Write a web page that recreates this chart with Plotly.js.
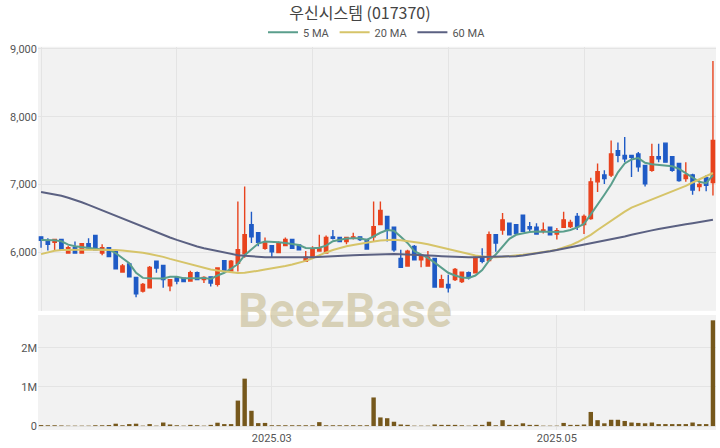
<!DOCTYPE html>
<html><head><meta charset="utf-8">
<script src="https://cdn.plot.ly/plotly-3.0.1.min.js"></script>
<style>html,body{margin:0;padding:0;background:#fff}#chart{width:720px;height:448px}</style>
</head><body><div id="chart"></div>
<script>
const dates = ['2025-01-08','2025-01-09','2025-01-10','2025-01-13','2025-01-14','2025-01-15','2025-01-16','2025-01-17','2025-01-20','2025-01-21','2025-01-22','2025-01-23','2025-01-24','2025-01-31',
'2025-02-03','2025-02-04','2025-02-05','2025-02-06','2025-02-07','2025-02-10','2025-02-11','2025-02-12','2025-02-13','2025-02-14','2025-02-17','2025-02-18','2025-02-19','2025-02-20','2025-02-21','2025-02-24','2025-02-25','2025-02-26','2025-02-27','2025-02-28',
'2025-03-04','2025-03-05','2025-03-06','2025-03-07','2025-03-10','2025-03-11','2025-03-12','2025-03-13','2025-03-14','2025-03-17','2025-03-18','2025-03-19','2025-03-20','2025-03-21','2025-03-24','2025-03-25','2025-03-26','2025-03-27','2025-03-28','2025-03-31',
'2025-04-01','2025-04-02','2025-04-03','2025-04-04','2025-04-07','2025-04-08','2025-04-09','2025-04-10','2025-04-11','2025-04-14','2025-04-15','2025-04-16','2025-04-17','2025-04-18','2025-04-21','2025-04-22','2025-04-23','2025-04-24','2025-04-25','2025-04-28','2025-04-29','2025-04-30',
'2025-05-02','2025-05-07','2025-05-08','2025-05-09','2025-05-12','2025-05-13','2025-05-14','2025-05-15','2025-05-16','2025-05-19','2025-05-20','2025-05-21','2025-05-22','2025-05-23','2025-05-26','2025-05-27','2025-05-28','2025-05-29','2025-05-30',
'2025-06-02','2025-06-04','2025-06-05','2025-06-09','2025-06-10'];

const openP = [6230,6170,6150,6190,5990,6070,5990,6130,6250,5990,6070,6020,5710,5830,5630,5430,5480,5870,5810,5510,5630,5620,5580,5700,5600,5640,5530,5880,5730,5840,5980,6410,6290,6060,6100,6000,6100,6190,6110,5870,5940,6020,5990,6230,6220,6160,6210,6230,6190,6230,6410,6530,6370,5910,5800,6090,5890,5800,5910,5490,5530,5600,5570,5700,5700,5940,5880,6260,6330,6430,6410,6550,6380,6370,6320,6370,6270,6370,6380,6530,6410,6500,7040,7140,7140,7500,7430,7430,7450,7280,7210,7410,7610,7410,7310,7090,7140,6970,7100,7030];
const highP = [6240,6210,6190,6190,6100,6160,6140,6210,6260,6120,6080,6020,5830,5840,5640,5550,5800,5870,5810,5610,5630,5620,5730,5720,5650,5640,5780,5880,5890,6750,6970,6600,6300,6220,6110,6160,6220,6190,6120,6020,6090,6260,6250,6330,6230,6230,6290,6240,6190,6750,6750,6530,6370,6040,6040,6110,5970,6020,5910,5670,5670,5770,5720,5720,5960,6060,6310,6260,6580,6440,6410,6560,6450,6430,6440,6380,6360,6600,6480,6580,6560,7100,7310,7210,7650,7620,7700,7440,7480,7290,7600,7600,7620,7420,7320,7330,7160,7060,7140,8820];
const lowP = [6070,6030,6020,6030,5980,5990,5990,6040,6030,5960,5940,5750,5700,5630,5340,5410,5470,5700,5480,5430,5530,5560,5570,5590,5550,5500,5500,5720,5720,5720,5920,6140,6090,6040,5930,6000,6090,6050,6030,5860,5930,6020,5990,6190,6150,6120,6190,6170,6050,6160,6400,6160,6010,5770,5790,5880,5780,5790,5480,5480,5410,5580,5550,5600,5690,5840,5870,6010,6260,6250,6270,6300,6310,6260,6280,6250,6190,6360,6360,6330,6270,6480,6890,7010,7110,7330,7330,7110,7190,6970,7190,7330,7320,7190,7040,7040,6850,6900,6900,6840];
const closeP = [6180,6120,6190,6040,6070,5990,6130,6070,6040,6070,5940,5760,5800,5640,5390,5530,5780,5770,5600,5600,5580,5570,5700,5600,5630,5550,5770,5730,5870,6040,6260,6230,6150,6140,6010,6140,6190,6060,6040,5930,6050,6070,6220,6210,6160,6220,6230,6190,6050,6380,6620,6330,6040,5780,6020,5890,5940,5930,5490,5600,5480,5750,5710,5630,5930,5870,6260,6140,6480,6260,6280,6310,6350,6270,6330,6260,6320,6480,6440,6380,6530,7040,7190,7090,7450,7430,7380,7400,7260,7010,7410,7380,7330,7210,7060,7140,6920,7000,6990,7650];

const ma5 = [6185,6185,6180,6165,6115,6090,6075,6060,6055,6045,6040,5990,5910,5840,5700,5625,5620,5615,5615,5640,5640,5620,5615,5620,5625,5610,5660,5700,5760,5830,5960,6050,6130,6160,6160,6150,6140,6125,6110,6065,6060,6070,6100,6165,6185,6205,6210,6210,6185,6240,6290,6330,6320,6230,6140,6020,5970,5920,5850,5775,5700,5660,5630,5625,5660,5740,5880,5970,6080,6200,6260,6285,6300,6310,6305,6305,6300,6310,6330,6370,6420,6560,6700,6850,7000,7180,7310,7370,7390,7320,7300,7290,7285,7270,7230,7170,7100,7040,7020,7140];
const ma20 = [5975,6005,6025,6035,6040,6040,6040,6040,6040,6040,6038,6035,6028,6020,6010,5995,5978,5960,5935,5905,5878,5850,5822,5795,5770,5750,5735,5720,5705,5698,5700,5712,5730,5750,5765,5780,5800,5822,5848,5875,5915,5960,6000,6035,6065,6090,6110,6130,6145,6160,6175,6185,6185,6180,6170,6155,6140,6120,6095,6070,6045,6020,5995,5975,5955,5940,5932,5930,5935,5942,5952,5965,5978,5990,6005,6020,6040,6070,6105,6150,6200,6260,6330,6400,6470,6540,6600,6660,6700,6740,6775,6810,6850,6890,6930,6980,7030,7080,7130,7170];
const ma60 = [6890,6875,6855,6835,6805,6775,6740,6700,6660,6620,6575,6530,6490,6450,6410,6370,6330,6290,6255,6220,6185,6150,6118,6088,6062,6040,6015,5995,5975,5960,5950,5940,5935,5930,5928,5926,5925,5925,5926,5928,5930,5933,5937,5942,5947,5952,5958,5963,5967,5972,5976,5978,5978,5975,5972,5968,5963,5957,5950,5944,5938,5933,5930,5928,5928,5930,5932,5934,5937,5940,5945,5955,5968,5983,6000,6018,6036,6055,6075,6095,6115,6135,6155,6175,6195,6215,6235,6260,6285,6305,6325,6345,6365,6385,6400,6415,6430,6445,6460,6480];

const volume = [25000,20000,20000,15000,10000,10000,10000,10000,20000,20000,25000,60000,20000,50000,60000,10000,50000,10000,90000,40000,20000,10000,30000,20000,10000,30000,85000,50000,50000,650000,1210000,390000,75000,80000,20000,20000,20000,20000,20000,20000,20000,100000,20000,20000,20000,20000,20000,20000,20000,730000,220000,200000,110000,40000,30000,10000,10000,10000,40000,30000,30000,30000,20000,10000,30000,30000,110000,20000,150000,30000,30000,70000,30000,30000,10000,10000,10000,80000,30000,30000,40000,360000,150000,70000,160000,160000,130000,90000,80000,70000,90000,50000,50000,50000,50000,50000,90000,50000,50000,2700000];

const xTickVals = ['2025-03-04','2025-05-02'];
const xTickText = ['2025.03','2025.05'];
const priceTicks = [6000,7000,8000,9000];
const volTicks = [0,1000000,2000000];
const volTickText = ['0','1M','2M'];

const topGrid = [0,20,40,60,80].map(i => dates[i]);

const baseFont = {family: "Roboto, 'Noto Sans CJK KR', sans-serif", size: 11, color: '#555'};

const traces = [
  {type:'candlestick', x:dates, open:openP, high:highP, low:lowP, close:closeP,
   xaxis:'x', yaxis:'y', showlegend:false, hoverinfo:'skip',
   increasing:{line:{color:'#e8431e', width:1.4}, fillcolor:'#e8431e'},
   decreasing:{line:{color:'#1f5bc6', width:1.4}, fillcolor:'#1f5bc6'}},
  {type:'scatter', mode:'lines', name:'5 MA', x:dates, y:ma5, xaxis:'x', yaxis:'y',
   line:{color:'#5a9e8c', width:2}, hoverinfo:'skip'},
  {type:'scatter', mode:'lines', name:'20 MA', x:dates, y:ma20, xaxis:'x', yaxis:'y',
   line:{color:'#d6c469', width:2}, hoverinfo:'skip'},
  {type:'scatter', mode:'lines', name:'60 MA', x:dates, y:ma60, xaxis:'x', yaxis:'y',
   line:{color:'#5b6182', width:2}, hoverinfo:'skip'},
  {type:'bar', x:dates, y:volume, xaxis:'x2', yaxis:'y2', showlegend:false, hoverinfo:'skip',
   marker:{color:'#76581c'}}
];

const layout = {
  width:720, height:448,
  margin:{l:38, r:4, t:44, b:18},
  paper_bgcolor:'#ffffff', plot_bgcolor:'#f2f2f2',
  font: baseFont,
  title:{text:'우신시스템 (017370)', x:0.5, xanchor:'center', y:0.969, yanchor:'middle', yref:'container',
         font:{family:"'Noto Sans CJK KR', sans-serif", size:16, color:'#444'}},
  showlegend:true,
  legend:{orientation:'h', x:0.5, xanchor:'center', y:0.928, yanchor:'middle', yref:'container',
          font:{family:"Roboto, sans-serif", size:11, color:'#555'}, bgcolor:'rgba(0,0,0,0)'},
  bargap:0.35,
  xaxis:{type:'category', domain:[0,1], anchor:'y', range:[-0.45, 99.45],
         rangeslider:{visible:false}, tickvals:topGrid, showticklabels:false,
         showgrid:true, gridcolor:'#e4e4e4', zeroline:false, showline:false, ticks:''},
  yaxis:{domain:[0.311,1], range:[5140, 9030], tickvals:priceTicks, tickformat:',d',
         showgrid:true, gridcolor:'#e4e4e4', zeroline:false, ticks:'', fixedrange:true},
  xaxis2:{type:'category', domain:[0,1], anchor:'y2', range:[-0.45, 99.45],
          tickvals:xTickVals, ticktext:xTickText, showgrid:true, gridcolor:'#e4e4e4',
          zeroline:false, showline:false, ticks:''},
  yaxis2:{domain:[0,0.30], range:[-101000, 2835000], tickvals:volTicks, ticktext:volTickText,
          showgrid:true, gridcolor:'#e4e4e4', zeroline:false, ticks:''},
  annotations:[{text:'<b>BeezBase</b>', xref:'paper', yref:'paper', x:0.453, y:0.311,
                xanchor:'center', yanchor:'middle', showarrow:false,
                font:{family:"Roboto, sans-serif", size:48, color:'rgba(198,186,142,0.6)'}}]
};

Plotly.newPlot('chart', traces, layout, {displayModeBar:false, staticPlot:true});
</script>
</body></html>
